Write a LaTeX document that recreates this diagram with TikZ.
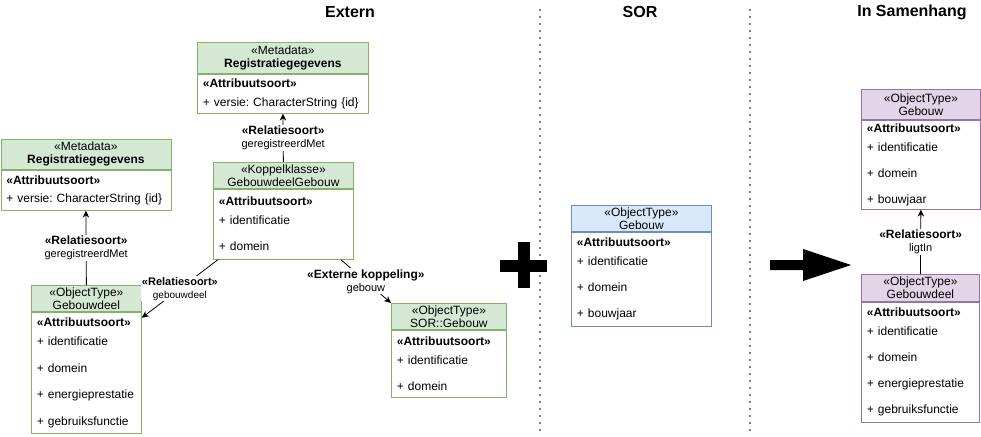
\documentclass[tikz,border=0pt]{standalone}
\usepackage{fontspec}
\setmainfont{Liberation Sans}
\usetikzlibrary{arrows.meta,positioning}
\definecolor{grnfill}{HTML}{D5E8D4}
\definecolor{grnline}{HTML}{82B366}
\definecolor{blufill}{HTML}{DAE8FC}
\definecolor{bluline}{HTML}{6C8EBF}
\definecolor{purfill}{HTML}{E1D5E7}
\definecolor{purline}{HTML}{9673A6}
\frenchspacing

\begin{document}
\begin{tikzpicture}[x=1pt,y=-1pt,>={Stealth[length=7pt,width=6.5pt]},line width=0.8pt]
\tikzstyle{hd}=[draw,anchor=north west,inner sep=0pt,align=center,font=\fontsize{12}{13}\selectfont]
\tikzstyle{bd}=[draw,fill=white,anchor=north west,inner xsep=5.5pt,inner ysep=0pt,align=left,font=\fontsize{12}{14}\selectfont]
\tikzstyle{lbl}=[fill=white,inner sep=1pt,align=center,font=\fontsize{11}{13}\selectfont]
\tikzstyle{ttl}=[font=\fontsize{16}{18}\selectfont\bfseries]
\useasboundingbox (0,0) rectangle (981,436);

% titles and separators
\node[ttl] (t1) at (350,12) {Extern};
\node[ttl] (t2) at (640,12) {SOR};
\node[ttl] (t3) at (912,12) {In Samenhang};
\coordinate (s1a) at (540,10); \coordinate (s1b) at (540,436);
\coordinate (s2a) at (750,10); \coordinate (s2b) at (750,436);
\draw[line width=1.6pt,line cap=round,dash pattern=on 0pt off 7pt] (s1a) -- (s1b);
\draw[line width=1.6pt,line cap=round,dash pattern=on 0pt off 7pt] (s2a) -- (s2b);

% Extern
\node[hd,draw=grnline,fill=grnfill,minimum width=170pt,minimum height=30pt] (rg1h) at (0.5,139) {«Metadata»\\\textbf{Registratiegegevens}};
\node[bd,draw=grnline,text width=159pt,minimum height=40pt] (rg1) at (rg1h.south west) {\textbf{«Attribuutsoort»}\\[4.5pt]+ versie: CharacterString \{id\}};
\node[hd,draw=grnline,fill=grnfill,minimum width=171pt,minimum height=31pt] (rg2h) at (197,42) {«Metadata»\\\textbf{Registratiegegevens}};
\node[bd,draw=grnline,text width=160pt,minimum height=39pt] (rg2) at (rg2h.south west) {\textbf{«Attribuutsoort»}\\[4.5pt]+ versie: CharacterString \{id\}};
\node[hd,draw=grnline,fill=grnfill,minimum width=140pt,minimum height=26pt] (ggh) at (213,162) {«Koppelklasse»\\GebouwdeelGebouw};
\node[bd,draw=grnline,text width=129pt,minimum height=70pt] (gg) at (ggh.south west) {\textbf{«Attribuutsoort»}\\[5pt]+ identificatie\\[12pt]+ domein};
\node[hd,draw=grnline,fill=grnfill,minimum width=110pt,minimum height=26pt] (gdh) at (31,285) {«ObjectType»\\Gebouwdeel};
\node[bd,draw=grnline,text width=99pt,minimum height=121pt] (gd) at (gdh.south west) {\textbf{«Attribuutsoort»}\\[5pt]+ identificatie\\[12.5pt]+ domein\\[12.5pt]+ energieprestatie\\[12.5pt]+ gebruiksfunctie};
\node[hd,draw=grnline,fill=grnfill,minimum width=115pt,minimum height=26pt] (sgh) at (391,303) {«ObjectType»\\SOR::Gebouw};
\node[bd,draw=grnline,text width=104pt,minimum height=67pt] (sg) at (sgh.south west) {\textbf{«Attribuutsoort»}\\[5pt]+ identificatie\\[12pt]+ domein};

\draw[->] (gdh.north) -- node[lbl]{{\fontsize{12}{13}\selectfont\bfseries «Relatiesoort»}\\geregistreerdMet} (rg1.south);
\draw[->] (ggh.north) -- node[lbl]{{\fontsize{12}{13}\selectfont\bfseries «Relatiesoort»}\\geregistreerdMet} (rg2.south);
\draw[->] ([xshift=5pt]gg.south west) -- node[lbl]{\textbf{«Relatiesoort»}\\{\fontsize{10}{12}\selectfont gebouwdeel}} ([yshift=-6pt]gd.north east);
\draw[->] ([xshift=-13pt]gg.south east) -- node[lbl]{{\fontsize{12}{13}\selectfont\bfseries «Externe koppeling»}\\gebouw} (sgh.north west);

% plus
\fill (500,260) rectangle (547,272);
\fill (518,242) rectangle (530,288);

% SOR
\node[hd,draw=bluline,fill=blufill,minimum width=140pt,minimum height=26pt] (ogh) at (571,205) {«ObjectType»\\Gebouw};
\node[bd,draw=bluline,text width=129pt,minimum height=94pt] (og) at (ogh.south west) {\textbf{«Attribuutsoort»}\\[5pt]+ identificatie\\[12pt]+ domein\\[12pt]+ bouwjaar};

% big arrow
\fill (770,260) -- (803,260) -- (803,249) -- (851,265) -- (803,281) -- (803,270) -- (770,270) -- cycle;

% In Samenhang
\node[hd,draw=purline,fill=purfill,minimum width=119pt,minimum height=30pt] (igh) at (861,89) {«ObjectType»\\Gebouw};
\node[bd,draw=purline,text width=108pt,minimum height=89pt] (ig) at (igh.south west) {\textbf{«Attribuutsoort»}\\[5pt]+ identificatie\\[12pt]+ domein\\[12pt]+ bouwjaar};
\node[hd,draw=purline,fill=purfill,minimum width=118pt,minimum height=27pt] (igdh) at (861,274) {«ObjectType»\\Gebouwdeel};
\node[bd,draw=purline,text width=107pt,minimum height=120pt] (igd) at (igdh.south west) {\textbf{«Attribuutsoort»}\\[5pt]+ identificatie\\[12pt]+ domein\\[12pt]+ energieprestatie\\[12pt]+ gebruiksfunctie};
\draw[->] (igdh.north) -- node[lbl]{{\fontsize{12}{13}\selectfont\bfseries «Relatiesoort»}\\ligtIn} (ig.south);
\end{tikzpicture}
\end{document}
